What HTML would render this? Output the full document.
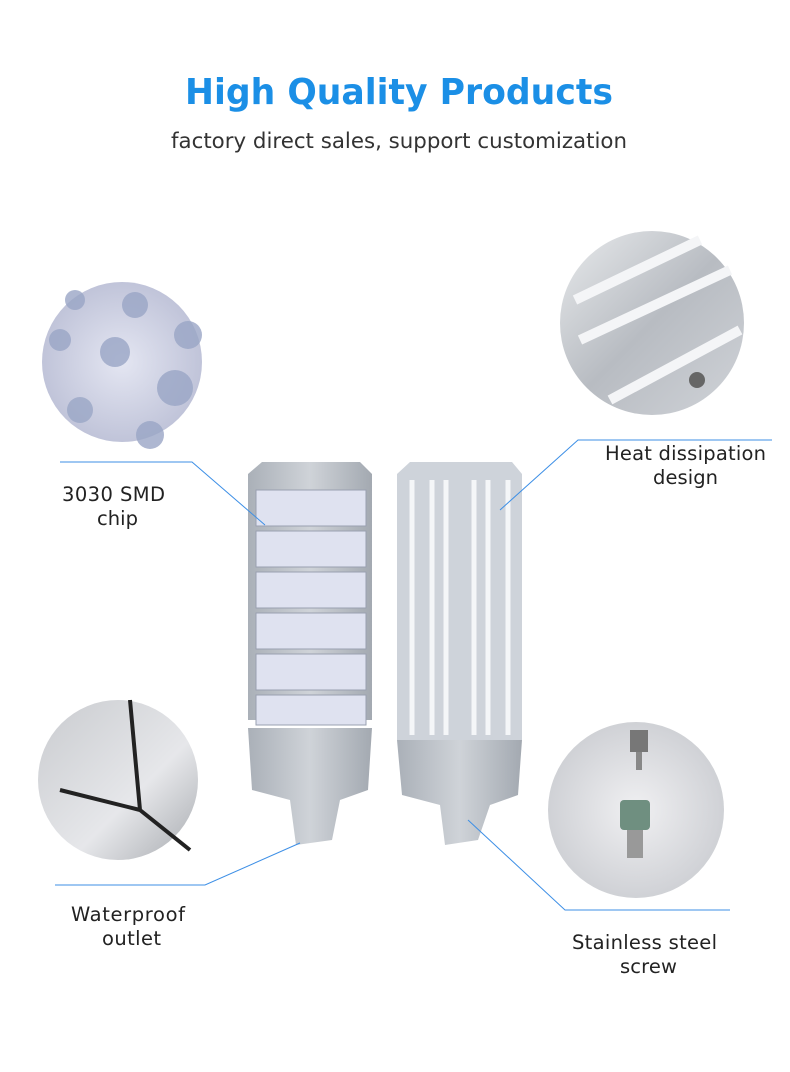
<!DOCTYPE html>
<html><head><meta charset="utf-8"><style>
body{margin:0;background:#fff;width:790px;height:1068px;overflow:hidden;font-family:"DejaVu Sans","Liberation Sans",sans-serif}
</style></head><body>
<svg width="790" height="1068" viewBox="0 0 790 1068" xmlns="http://www.w3.org/2000/svg">
<defs>
<radialGradient id="c1" cx="0.5" cy="0.5" r="0.6"><stop offset="0" stop-color="#e4e6f2"/><stop offset="1" stop-color="#b9bdd4"/></radialGradient>
<linearGradient id="c2" x1="0" y1="0" x2="1" y2="1"><stop offset="0" stop-color="#e8eaec"/><stop offset="0.5" stop-color="#b8bcc2"/><stop offset="1" stop-color="#d0d3d8"/></linearGradient>
<linearGradient id="c3" x1="0" y1="0" x2="1" y2="1"><stop offset="0" stop-color="#c9cbcf"/><stop offset="0.6" stop-color="#e6e7ea"/><stop offset="1" stop-color="#a7aaaf"/></linearGradient>
<radialGradient id="c4" cx="0.5" cy="0.5" r="0.6"><stop offset="0" stop-color="#f0f0f2"/><stop offset="1" stop-color="#c9cbd0"/></radialGradient>
<linearGradient id="body" x1="0" y1="0" x2="1" y2="0"><stop offset="0" stop-color="#aab0b8"/><stop offset="0.5" stop-color="#cfd3d8"/><stop offset="1" stop-color="#a3a9b1"/></linearGradient>
</defs>
<text x="185" y="104" font-size="36" font-weight="bold" fill="#1b8fe6" textLength="428" lengthAdjust="spacingAndGlyphs">High Quality Products</text>
<text x="171" y="148" font-size="21" fill="#333" textLength="456" lengthAdjust="spacingAndGlyphs">factory direct sales, support customization</text>

<circle cx="122" cy="362" r="80" fill="url(#c1)"/>
<g fill="#9aa6c6" opacity="0.8"><circle cx="75" cy="300" r="10"/><circle cx="135" cy="305" r="13"/><circle cx="60" cy="340" r="11"/><circle cx="115" cy="352" r="15"/><circle cx="188" cy="335" r="14"/><circle cx="80" cy="410" r="13"/><circle cx="175" cy="388" r="18"/><circle cx="150" cy="435" r="14"/></g>
<circle cx="652" cy="323" r="92" fill="url(#c2)"/>
<path d="M575 300 L700 240 M580 340 L730 270 M610 400 L740 330" stroke="#f4f5f7" stroke-width="10"/>
<circle cx="697" cy="380" r="8" fill="#666"/>
<circle cx="118" cy="780" r="80" fill="url(#c3)"/>
<path d="M130 700 L140 810 L190 850 M60 790 L140 810" stroke="#222" stroke-width="4" fill="none"/>
<circle cx="636" cy="810" r="88" fill="url(#c4)"/>
<rect x="630" y="730" width="18" height="22" fill="#777"/><rect x="636" y="752" width="6" height="18" fill="#888"/>
<rect x="620" y="800" width="30" height="30" rx="4" fill="#6f8f80"/><rect x="627" y="830" width="16" height="28" fill="#999"/>

<path d="M262 462 L360 462 L372 474 L372 720 L248 720 L248 474 Z" fill="url(#body)"/>
<g fill="#dfe2f0" stroke="#9aa0b0" stroke-width="1">
<rect x="256" y="490" width="110" height="36"/><rect x="256" y="531" width="110" height="36"/><rect x="256" y="572" width="110" height="36"/><rect x="256" y="613" width="110" height="36"/><rect x="256" y="654" width="110" height="36"/><rect x="256" y="695" width="110" height="30"/></g>
<path d="M248 728 L372 728 L368 790 L340 800 L332 840 L296 845 L290 800 L252 790 Z" fill="url(#body)"/>
<path d="M410 462 L512 462 L522 474 L522 740 L397 740 L397 474 Z" fill="#ced3da"/>
<g stroke="#f4f6f8" stroke-width="5"><line x1="412" y1="480" x2="412" y2="735"/><line x1="432" y1="480" x2="432" y2="735"/><line x1="446" y1="480" x2="446" y2="735"/><line x1="474" y1="480" x2="474" y2="735"/><line x1="488" y1="480" x2="488" y2="735"/><line x1="508" y1="480" x2="508" y2="735"/></g>
<path d="M397 740 L522 740 L518 795 L490 805 L478 840 L445 845 L440 805 L402 795 Z" fill="url(#body)"/>

<g stroke="#3d8fe6" stroke-width="1" fill="none">
<polyline points="60,462 192,462 265,525"/>
<polyline points="500,510 578,440 772,440"/>
<polyline points="55,885 205,885 300,843"/>
<polyline points="468,820 565,910 730,910"/>
</g>
<g font-size="19.5" fill="#222" lengthAdjust="spacingAndGlyphs">
<text x="62" y="501" textLength="103">3030 SMD</text><text x="97" y="525" textLength="41">chip</text>
<text x="605" y="460" textLength="161">Heat dissipation</text><text x="653" y="484" textLength="65">design</text>
<text x="71" y="921" textLength="114">Waterproof</text><text x="102" y="945" textLength="59">outlet</text>
<text x="572" y="949" textLength="145">Stainless steel</text><text x="620" y="973" textLength="57">screw</text>
</g>
</svg>
</body></html>
